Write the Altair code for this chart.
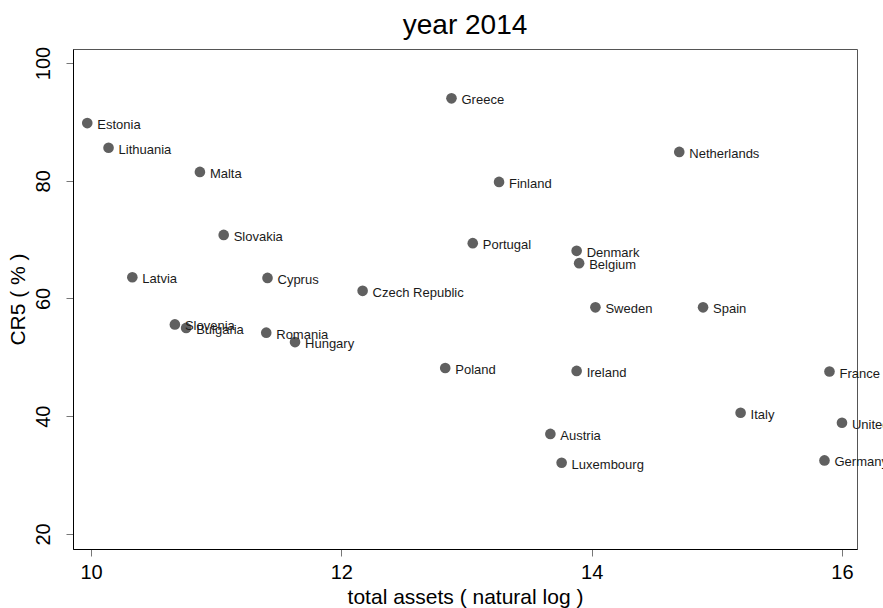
import altair as alt
import pandas as pd

# Five-bank concentration ratio vs. banking-sector size, EU countries, 2014
countries = [
    "Estonia", "Lithuania", "Malta", "Slovakia", "Latvia", "Cyprus",
    "Czech Republic", "Slovenia", "Bulgaria", "Romania", "Hungary",
    "Greece", "Finland", "Portugal", "Denmark", "Belgium", "Sweden",
    "Poland", "Ireland", "Austria", "Luxembourg", "Netherlands", "Spain",
    "France", "Italy", "United Kingdom", "Germany",
]
log_assets = [
    9.97, 10.14, 10.87, 11.06, 10.33, 11.41,
    12.17, 10.67, 10.76, 11.40, 11.63,
    12.88, 13.26, 13.05, 13.88, 13.90, 14.03,
    12.83, 13.88, 13.67, 13.76, 14.70, 14.89,
    15.90, 15.19, 16.00, 15.86,
]
cr5 = [
    89.8, 85.6, 81.5, 70.8, 63.6, 63.5,
    61.3, 55.6, 55.0, 54.2, 52.6,
    94.0, 79.8, 69.4, 68.1, 66.0, 58.5,
    48.2, 47.7, 37.0, 32.1, 84.9, 58.5,
    47.6, 40.6, 38.9, 32.5,
]

x_ticks = [10, 12, 14, 16]
y_ticks = [20, 40, 60, 80, 100]

df = pd.DataFrame({"country": countries, "assets": log_assets, "cr5": cr5})

FONT = "Liberation Sans"

x_enc = alt.X(
    "assets:Q",
    scale=alt.Scale(domain=[9.856, 16.12], nice=False, zero=False),
    axis=alt.Axis(values=x_ticks, title="total assets ( natural log )",
                  labelPadding=6, titlePadding=4),
)
y_enc = alt.Y(
    "cr5:Q",
    scale=alt.Scale(domain=[17.45, 102.38], nice=False, zero=False),
    axis=alt.Axis(values=y_ticks, title="CR5 ( % )", labelAngle=270,
                  labelAlign="center", labelBaseline="bottom",
                  labelPadding=13, titlePadding=5),
)

base = alt.Chart(df).encode(x=x_enc, y=y_enc)

points = base.mark_circle(size=113, color="#606060", opacity=1)

labels = base.mark_text(
    align="left", baseline="middle", dx=10, dy=2,
    font=FONT, fontSize=13, color="#1a1a1a",
).encode(text="country:N")

chart = (
    alt.layer(points, labels)
    .properties(
        width=784,
        height=500,
        title=alt.TitleParams("year 2014", font=FONT, fontSize=28,
                              fontWeight="normal", color="black",
                              anchor="middle", offset=6),
        autosize=alt.AutoSizeParams(type="none"),
        padding={"left": 73, "top": 49, "right": 26, "bottom": 59},
    )
    .configure(background="white")
    .configure_view(stroke="#555555", strokeWidth=1)
    .configure_axis(
        grid=False,
        domainColor="black",
        domainWidth=1,
        tickColor="#777777",
        tickSize=7,
        labelFont=FONT,
        labelFontSize=20,
        labelColor="black",
        titleFont=FONT,
        titleFontSize=21,
        titleFontWeight="normal",
        titleColor="black",
    )
)

chart.save("out.html", embed_options={"renderer": "svg", "actions": False})
